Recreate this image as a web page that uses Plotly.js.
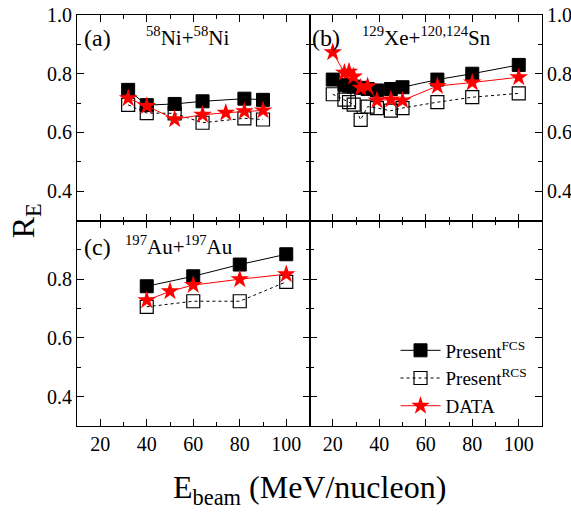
<!DOCTYPE html>
<html>
<head>
<meta charset="utf-8">
<script src="https://cdn.plot.ly/plotly-3.0.1.min.js"></script>
<style>html,body{margin:0;padding:0;background:#fff;}#chart{width:571px;height:516px;}</style>
</head>
<body>
<div id="chart"></div>
<script>
// Panel (a) 58Ni+58Ni
const niE_calc = [32, 40, 52, 64, 82, 90];
const niFCS = [0.745, 0.693, 0.697, 0.706, 0.715, 0.711];
const niRCS = [0.694, 0.666, 0.665, 0.633, 0.648, 0.644];
const niE_data = [32, 40, 52, 64, 74, 82, 90];
const niDATA = [0.716, 0.690, 0.645, 0.660, 0.667, 0.672, 0.675];

// Panel (b) 129Xe+120,124Sn
const xeE = [20, 25, 27, 29, 32, 35, 39, 45, 50, 65, 80, 100];
const xeFCS = [0.780, 0.762, 0.759, 0.756, 0.752, 0.748, 0.743, 0.748, 0.754, 0.780, 0.800, 0.830];
const xeRCS = [0.730, 0.712, 0.703, 0.695, 0.643, 0.688, 0.683, 0.674, 0.683, 0.703, 0.720, 0.733];
const xeDATA = [0.873, 0.803, 0.807, 0.790, 0.752, 0.757, 0.709, 0.712, 0.709, 0.758, 0.770, 0.788];

// Panel (c) 197Au+197Au
const auE_calc = [40, 60, 80, 100];
const auFCS = [0.776, 0.810, 0.850, 0.885];
const auRCS = [0.706, 0.725, 0.725, 0.791];
const auE_data = [40, 50, 60, 80, 100];
const auDATA = [0.728, 0.759, 0.780, 0.800, 0.817];

const xTickVals = [20, 40, 60, 80, 100];
const yTickValsTop = [0.4, 0.6, 0.8, 1.0];
const yTickValsBottom = [0.4, 0.6, 0.8];

const FONT = "'Liberation Serif', serif";

function fcs(x, y, xa, ya, show) {
  return {x: x, y: y, xaxis: xa, yaxis: ya, type: 'scatter', mode: 'lines+markers',
    name: 'Present<sup>FCS</sup>', showlegend: show, legendgroup: 'fcs',
    line: {color: '#000', width: 1},
    marker: {symbol: 'square', size: 13, color: '#000', line: {color: '#000', width: 1}}};
}
function rcs(x, y, xa, ya, show) {
  return {x: x, y: y, xaxis: xa, yaxis: ya, type: 'scatter', mode: 'lines+markers',
    name: 'Present<sup>RCS</sup>', showlegend: show, legendgroup: 'rcs',
    line: {color: '#000', width: 1, dash: '3px,3px'},
    marker: {symbol: 'square-open', size: 13, color: '#000', line: {color: '#000', width: 1.2}}};
}
function dat(x, y, xa, ya, show) {
  return {x: x, y: y, xaxis: xa, yaxis: ya, type: 'scatter', mode: 'lines+markers',
    name: 'DATA', showlegend: show, legendgroup: 'data',
    line: {color: '#ff0000', width: 1},
    marker: {symbol: 'star', size: 14, color: '#ff0000', line: {color: '#ff0000', width: 0}}};
}

const traces = [
  fcs(niE_calc, niFCS, 'x', 'y', true),
  rcs(niE_calc, niRCS, 'x', 'y', true),
  dat(niE_data, niDATA, 'x', 'y', true),
  fcs(xeE, xeFCS, 'x2', 'y2', false),
  rcs(xeE, xeRCS, 'x2', 'y2', false),
  dat(xeE, xeDATA, 'x2', 'y2', false),
  fcs(auE_calc, auFCS, 'x3', 'y3', false),
  rcs(auE_calc, auRCS, 'x3', 'y3', false),
  dat(auE_data, auDATA, 'x3', 'y3', false),
  {x: [], y: [], xaxis: 'x4', yaxis: 'y4', type: 'scatter', showlegend: false}
];

function xax(domain, anchor, labels) {
  return {domain: domain, anchor: anchor, range: [10, 110], tickvals: xTickVals,
    showticklabels: labels, ticks: 'inside', ticklen: 7, tickwidth: 1, tickcolor: '#000',
    minor: {dtick: 10, tick0: 0, ticks: 'inside', ticklen: 4, tickwidth: 1, tickcolor: '#000'},
    showline: true, linecolor: '#000', linewidth: 1, mirror: 'allticks', showgrid: false, zeroline: false,
    tickfont: {family: FONT, size: 20, color: '#000'}};
}
function yax(domain, anchor, side, labels, vals) {
  return {domain: domain, anchor: anchor, side: side, range: [0.3, 1.0], tickvals: vals,
    ticktext: vals.map(v => v.toFixed(1)),
    showticklabels: labels, ticks: 'inside', ticklen: 7, tickwidth: 1, tickcolor: '#000',
    minor: {tickvals: [0.3, 0.5, 0.7, 0.9], ticks: 'inside', ticklen: 4, tickwidth: 1, tickcolor: '#000'},
    showline: true, linecolor: '#000', linewidth: 1, mirror: 'allticks', showgrid: false, zeroline: false,
    tickfont: {family: FONT, size: 20, color: '#000'}};
}

const layout = {
  width: 571, height: 516,
  margin: {l: 77, r: 29, t: 15, b: 90},
  paper_bgcolor: '#fff', plot_bgcolor: '#fff',
  font: {family: FONT, color: '#000'},
  xaxis: xax([0, 0.5], 'y', false),
  yaxis: yax([0.5, 1], 'x', 'left', true, yTickValsTop),
  xaxis2: xax([0.5, 1], 'y2', false),
  yaxis2: yax([0.5, 1], 'x2', 'right', true, yTickValsTop),
  xaxis3: xax([0, 0.5], 'y3', true),
  yaxis3: yax([0, 0.5], 'x3', 'left', true, yTickValsBottom),
  xaxis4: xax([0.5, 1], 'y4', true),
  yaxis4: yax([0, 0.5], 'x4', 'left', false, yTickValsBottom),
  showlegend: true,
  legend: {x: 0.685, y: 0.23, xanchor: 'left', yanchor: 'top', bgcolor: 'rgba(0,0,0,0)',
    font: {family: FONT, size: 19, color: '#000'}, tracegroupgap: 0, itemwidth: 40},
  annotations: [
    {text: '(a)', xref: 'paper', yref: 'paper', x: 0.01, y: 0.945, xanchor: 'left', yanchor: 'middle', showarrow: false, font: {family: FONT, size: 24}},
    {text: '<sup>58</sup>Ni+<sup>58</sup>Ni', xref: 'paper', yref: 'paper', x: 0.145, y: 0.948, xanchor: 'left', yanchor: 'middle', showarrow: false, font: {family: FONT, size: 21}},
    {text: '(b)', xref: 'paper', yref: 'paper', x: 0.5, y: 0.945, xanchor: 'left', yanchor: 'middle', showarrow: false, font: {family: FONT, size: 24}},
    {text: '<sup>129</sup>Xe+<sup>120,124</sup>Sn', xref: 'paper', yref: 'paper', x: 0.608, y: 0.948, xanchor: 'left', yanchor: 'middle', showarrow: false, font: {family: FONT, size: 21}},
    {text: '(c)', xref: 'paper', yref: 'paper', x: 0.01, y: 0.435, xanchor: 'left', yanchor: 'middle', showarrow: false, font: {family: FONT, size: 24}},
    {text: '<sup>197</sup>Au+<sup>197</sup>Au', xref: 'paper', yref: 'paper', x: 0.098, y: 0.44, xanchor: 'left', yanchor: 'middle', showarrow: false, font: {family: FONT, size: 21}},
    {text: 'R<sub>E</sub>', xref: 'paper', yref: 'paper', x: -0.11, y: 0.5, xanchor: 'center', yanchor: 'middle', textangle: -90, showarrow: false, font: {family: FONT, size: 32}},
    {text: 'E<sub>beam</sub> (MeV/nucleon)', xref: 'paper', yref: 'paper', x: 0.5, y: -0.155, xanchor: 'center', yanchor: 'middle', showarrow: false, font: {family: FONT, size: 32}}
  ]
};

Plotly.newPlot('chart', traces, layout, {staticPlot: true, displayModeBar: false});
</script>
</body>
</html>
